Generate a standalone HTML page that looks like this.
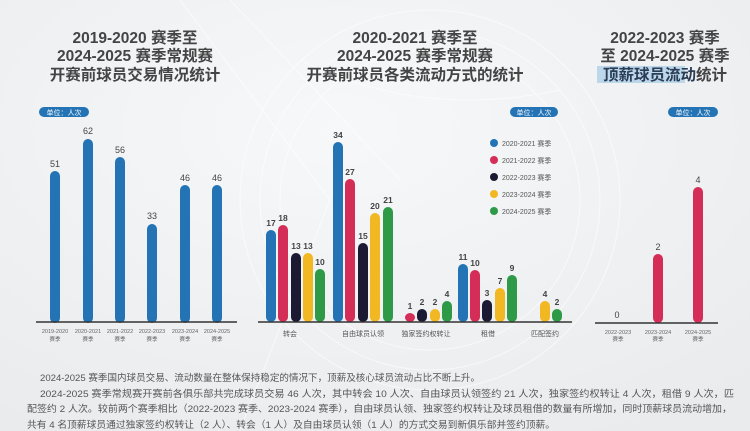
<!DOCTYPE html>
<html><head><meta charset="utf-8"><style>
html,body{margin:0;padding:0;}
body{width:750px;height:431px;overflow:hidden;background:#eef0f2;}
svg{display:block;font-family:"Liberation Sans","Noto Sans CJK SC",sans-serif;}
</style></head><body>
<svg width="750" height="431" viewBox="0 0 750 431" xmlns="http://www.w3.org/2000/svg">
<defs><radialGradient id="bg" cx="0.45" cy="0.3" r="0.8"><stop offset="0" stop-color="#f7f8f9"/><stop offset="1" stop-color="#e9ebed"/></radialGradient></defs>
<rect width="750" height="431" fill="url(#bg)"/>
<g fill="none" stroke="#fff" stroke-width="1" opacity="0.6">
<path d="M180 0 L330 200 L240 430"/><path d="M230 0 L400 180"/><path d="M300 60 Q420 120 560 90"/>
<circle cx="430" cy="200" r="150"/><circle cx="430" cy="200" r="170"/><circle cx="430" cy="200" r="190"/>
</g>
<g fill="#444" font-weight="bold" font-size="15.5" text-anchor="middle">
<text x="135" y="43">2019-2020 赛季至</text>
<text x="135" y="61">2024-2025 赛季常规赛</text>
<text x="135" y="80">开赛前球员交易情况统计</text>
<text x="415" y="43">2020-2021 赛季至</text>
<text x="415" y="61">2024-2025 赛季常规赛</text>
<text x="415" y="80">开赛前球员各类流动方式的统计</text>
<text x="665" y="43">2022-2023 赛季</text>
<text x="665" y="61">至 2024-2025 赛季</text>
<rect x="597" y="66" width="88" height="17" fill="#bcd6ea"/>
<text x="665" y="80"><tspan fill="#2a3d55">顶薪球员流动</tspan>统计</text>
</g>
<g font-size="7" fill="#fff" text-anchor="middle">
<rect x="39" y="107" width="50" height="10" rx="5" fill="#2474b5"/><text x="64" y="115">单位：人次</text>
<rect x="510" y="107" width="48" height="10" rx="5" fill="#2474b5"/><text x="534" y="115">单位：人次</text>
<rect x="668" y="107" width="50" height="10" rx="5" fill="#2474b5"/><text x="693" y="115">单位：人次</text>
</g>
<g fill="#2474b5">
<rect x="50" y="171" width="10" height="152" rx="5"/>
<rect x="83" y="139" width="10" height="184" rx="5"/>
<rect x="115" y="157" width="10" height="166" rx="5"/>
<rect x="147" y="224" width="10" height="99" rx="5"/>
<rect x="180" y="185" width="10" height="138" rx="5"/>
<rect x="212" y="185" width="10" height="138" rx="5"/>
</g>
<g font-size="9" fill="#444" text-anchor="middle">
<text x="55" y="167">51</text><text x="88" y="134">62</text><text x="120" y="153">56</text><text x="152" y="219">33</text><text x="185" y="181">46</text><text x="217" y="181">46</text>
</g>
<line x1="36" y1="322" x2="237" y2="322" stroke="#333" stroke-width="1.5"/>
<g font-size="5.5" fill="#666" text-anchor="middle">
<text x="55" y="333">2019-2020</text><text x="55" y="341">赛季</text>
<text x="88" y="333">2020-2021</text><text x="88" y="341">赛季</text>
<text x="120" y="333">2021-2022</text><text x="120" y="341">赛季</text>
<text x="152" y="333">2022-2023</text><text x="152" y="341">赛季</text>
<text x="185" y="333">2023-2024</text><text x="185" y="341">赛季</text>
<text x="217" y="333">2024-2025</text><text x="217" y="341">赛季</text>
</g>
<g>
<rect x="266" y="230" width="10" height="92" rx="5" fill="#2474b5"/>
<rect x="278" y="225" width="10" height="97" rx="5" fill="#d42e58"/>
<rect x="291" y="253" width="10" height="69" rx="5" fill="#1c1a33"/>
<rect x="303" y="253" width="10" height="69" rx="5" fill="#f2b824"/>
<rect x="315" y="269" width="10" height="53" rx="5" fill="#2e9a48"/>
<rect x="333" y="142" width="10" height="180" rx="5" fill="#2474b5"/>
<rect x="345" y="179" width="10" height="143" rx="5" fill="#d42e58"/>
<rect x="358" y="243" width="10" height="79" rx="5" fill="#1c1a33"/>
<rect x="370" y="213" width="10" height="109" rx="5" fill="#f2b824"/>
<rect x="383" y="207" width="10" height="115" rx="5" fill="#2e9a48"/>
<rect x="405" y="313" width="10" height="9" rx="5" fill="#d42e58"/>
<rect x="417" y="309" width="10" height="13" rx="5" fill="#1c1a33"/>
<rect x="430" y="309" width="10" height="13" rx="5" fill="#f2b824"/>
<rect x="442" y="301" width="10" height="21" rx="5" fill="#2e9a48"/>
<rect x="458" y="264" width="10" height="58" rx="5" fill="#2474b5"/>
<rect x="470" y="270" width="10" height="52" rx="5" fill="#d42e58"/>
<rect x="482" y="300" width="10" height="22" rx="5" fill="#1c1a33"/>
<rect x="495" y="288" width="10" height="34" rx="5" fill="#f2b824"/>
<rect x="507" y="275" width="10" height="47" rx="5" fill="#2e9a48"/>
<rect x="540" y="301" width="10" height="21" rx="5" fill="#f2b824"/>
<rect x="552" y="309" width="10" height="13" rx="5" fill="#2e9a48"/>
</g>
<g font-size="8.5" fill="#444" text-anchor="middle" font-weight="bold">
<text x="271" y="226">17</text><text x="283" y="221">18</text><text x="296" y="249">13</text><text x="308" y="249">13</text><text x="320" y="265">10</text>
<text x="338" y="138">34</text><text x="350" y="175">27</text><text x="363" y="239">15</text><text x="375" y="209">20</text><text x="388" y="203">21</text>
<text x="410" y="309">1</text><text x="422" y="305">2</text><text x="435" y="305">2</text><text x="447" y="297">4</text>
<text x="463" y="260">11</text><text x="475" y="266">10</text><text x="487" y="296">3</text><text x="500" y="284">7</text><text x="512" y="271">9</text>
<text x="545" y="297">4</text><text x="557" y="305">2</text>
</g>
<line x1="258" y1="322" x2="572" y2="322" stroke="#333" stroke-width="1.5"/>
<g font-size="7" fill="#555" text-anchor="middle">
<text x="290" y="336">转会</text><text x="363" y="336">自由球员认领</text><text x="426" y="336">独家签约权转让</text><text x="488" y="336">租借</text><text x="545" y="336">匹配签约</text>
</g>
<g font-size="7" fill="#555">
<circle cx="494" cy="143" r="4" fill="#2474b5"/><text x="502" y="146">2020-2021 赛季</text>
<circle cx="494" cy="160" r="4" fill="#d42e58"/><text x="502" y="163">2021-2022 赛季</text>
<circle cx="494" cy="177" r="4" fill="#1c1a33"/><text x="502" y="180">2022-2023 赛季</text>
<circle cx="494" cy="194" r="4" fill="#f2b824"/><text x="502" y="197">2023-2024 赛季</text>
<circle cx="494" cy="211" r="4" fill="#2e9a48"/><text x="502" y="214">2024-2025 赛季</text>
</g>
<rect x="653" y="254" width="10" height="69" rx="5" fill="#d42e58"/>
<rect x="693" y="187" width="10" height="136" rx="5" fill="#d42e58"/>
<g font-size="9" fill="#444" text-anchor="middle">
<text x="617" y="318">0</text><text x="658" y="250">2</text><text x="698" y="183">4</text>
</g>
<line x1="595" y1="323" x2="718" y2="323" stroke="#333" stroke-width="1.5"/>
<g font-size="5.5" fill="#666" text-anchor="middle">
<text x="618" y="334">2022-2023</text><text x="618" y="341">赛季</text>
<text x="658" y="334">2023-2024</text><text x="658" y="341">赛季</text>
<text x="698" y="334">2024-2025</text><text x="698" y="341">赛季</text>
</g>
<g font-size="9.5" fill="#555">
<text x="40" y="381" textLength="440" lengthAdjust="spacingAndGlyphs">2024-2025 赛季国内球员交易、流动数量在整体保持稳定的情况下，顶薪及核心球员流动占比不断上升。</text>
<text x="40" y="397" textLength="694" lengthAdjust="spacingAndGlyphs">2024-2025 赛季常规赛开赛前各俱乐部共完成球员交易 46 人次，其中转会 10 人次、自由球员认领签约 21 人次，独家签约权转让 4 人次，租借 9 人次，匹</text>
<text x="27" y="412" textLength="705" lengthAdjust="spacingAndGlyphs">配签约 2 人次。较前两个赛季相比（2022-2023 赛季、2023-2024 赛季），自由球员认领、独家签约权转让及球员租借的数量有所增加，同时顶薪球员流动增加，</text>
<text x="27" y="428" textLength="528" lengthAdjust="spacingAndGlyphs">共有 4 名顶薪球员通过独家签约权转让（2 人）、转会（1 人）及自由球员认领（1 人）的方式交易到新俱乐部并签约顶薪。</text>
</g>
</svg>
</body></html>
